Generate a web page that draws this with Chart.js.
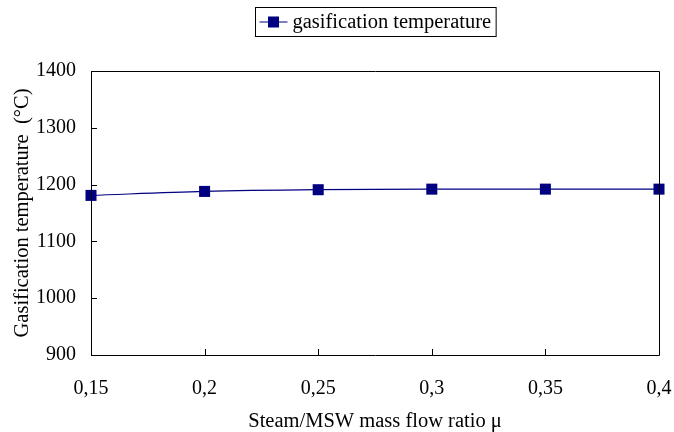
<!DOCTYPE html>
<html>
<head>
<meta charset="utf-8">
<script src="https://cdn.jsdelivr.net/npm/chart.js@4/dist/chart.umd.min.js"></script>
<style>
html,body{margin:0;padding:0;background:#fff;}
#wrap{width:674px;height:432px;}
</style>
</head>
<body>
<div id="wrap"><canvas id="c" width="674" height="432"></canvas></div>
<script>
const categories = ['0,15', '0,2', '0,25', '0,3', '0,35', '0,4'];
const temperature = [1181, 1188, 1191, 1192, 1192, 1192];
const seriesName = 'gasification temperature';
const yTicks = [900, 1000, 1100, 1200, 1300, 1400];
const xTitle = 'Steam/MSW mass flow ratio \u03bc';
const yTitle = 'Gasification temperature  (\u00b0C)';

const FONT = '"Liberation Serif", "Times New Roman", serif';
const NAVY = '#000080';

const framePlugin = {
  id: 'frame',
  afterDraw(chart) {
    const ctx = chart.ctx, a = chart.chartArea;
    const xs = chart.scales.x, ys = chart.scales.y;
    ctx.save();
    ctx.strokeStyle = '#000';
    ctx.lineWidth = 1;
    ctx.beginPath();
    ctx.rect(Math.round(a.left) + 0.5, Math.round(a.top) + 0.5, Math.round(a.right - a.left), Math.round(a.bottom - a.top));
    ctx.stroke();
    // inside tick marks
    ctx.beginPath();
    yTicks.forEach(v => {
      const y = Math.round(ys.getPixelForValue(v)) + 0.5;
      ctx.moveTo(a.left, y); ctx.lineTo(a.left + 6, y);
    });
    categories.forEach((c, i) => {
      const x = Math.round(xs.getPixelForValue(i)) + 0.5;
      ctx.moveTo(x, a.bottom); ctx.lineTo(x, a.bottom - 6);
    });
    ctx.stroke();
    // legend
    ctx.font = '20.5px ' + FONT;
    const tw = ctx.measureText(seriesName).width;
    const markW = 28, gap = 5, pad = 4, padR = 5;
    const boxW = pad + markW + gap + tw + padR;
    const boxH = 29;
    const cx = (a.left + a.right) / 2;
    const bx = Math.round(cx - boxW / 2) + 0.5;
    const by = Math.round(a.top - 64) + 0.5;
    ctx.strokeStyle = '#000';
    ctx.strokeRect(bx, by, boxW, boxH);
    const my = by + boxH / 2;
    ctx.strokeStyle = NAVY;
    ctx.beginPath();
    ctx.moveTo(bx + pad, my); ctx.lineTo(bx + pad + markW, my);
    ctx.stroke();
    ctx.fillStyle = NAVY;
    ctx.fillRect(bx + pad + markW / 2 - 5.5, my - 5.5, 11, 11);
    ctx.fillStyle = '#000';
    ctx.textBaseline = 'middle';
    ctx.textAlign = 'left';
    ctx.fillText(seriesName, bx + pad + markW + gap, my + 1);
    ctx.restore();
  }
};

new Chart(document.getElementById('c'), {
  type: 'line',
  data: {
    labels: categories,
    datasets: [{
      label: seriesName,
      data: temperature,
      borderColor: NAVY,
      backgroundColor: NAVY,
      borderWidth: 1.2,
      tension: 0.4,
      cubicInterpolationMode: 'monotone',
      pointStyle: 'rect',
      pointRadius: 7.8,
      pointHoverRadius: 7.8,
      pointBorderWidth: 0,
      clip: false
    }]
  },
  options: {
    responsive: false,
    animation: false,
    events: [],
    layout: { padding: { left: 10, right: 15, top: 71, bottom: 0 } },
    plugins: { legend: { display: false }, tooltip: { enabled: false } },
    scales: {
      x: {
        type: 'category',
        offset: false,
        grid: { display: false, drawTicks: false },
        border: { display: false },
        ticks: { color: '#000', font: { family: FONT, size: 20 }, padding: 22, maxRotation: 0, autoSkip: false },
        title: { display: true, text: xTitle, color: '#000', font: { family: FONT, size: 20.5, lineHeight: 1.05 }, padding: { top: 0, bottom: 0 } },
        afterFit(s) { s.height = 432 - 355; s.paddingRight = 0; s.paddingLeft = 0; }
      },
      y: {
        min: 900, max: 1400,
        afterBuildTicks(s) { s.ticks = yTicks.map(v => ({ value: v })); },
        grid: { display: false, drawTicks: false },
        border: { display: false },
        ticks: { color: '#000', font: { family: FONT, size: 20 }, padding: 15, callback: v => String(v) },
        title: { display: true, text: yTitle, color: '#000', font: { family: FONT, size: 20.5 }, padding: { top: 0, bottom: 0 } },
        afterFit(s) { s.width = 91 - 10; s.paddingTop = 0; s.paddingBottom = 0; }
      }
    }
  },
  plugins: [framePlugin]
});
</script>
</body>
</html>
